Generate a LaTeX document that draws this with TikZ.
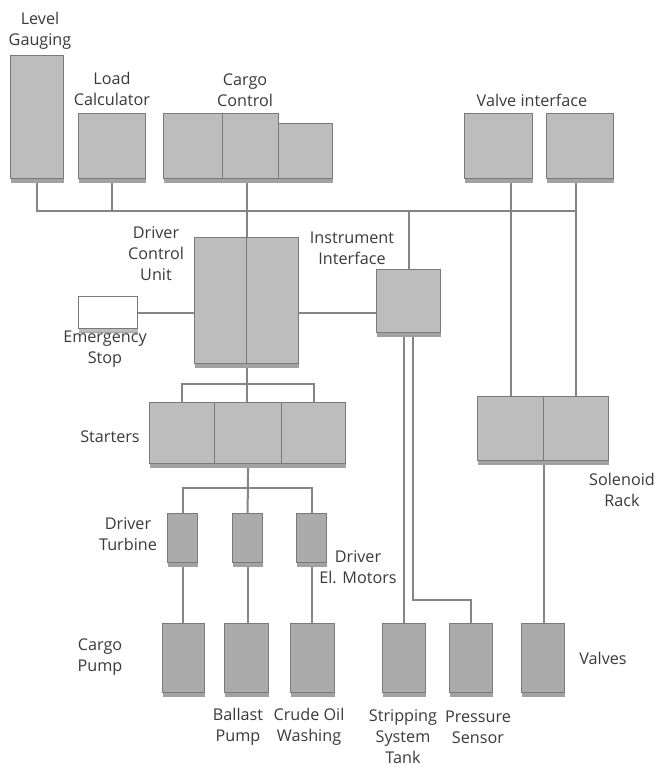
\documentclass[tikz,border=0pt]{standalone}
\usepackage{fontspec}
\setmainfont{Open Sans}
\usepackage{tikz}
\usetikzlibrary{positioning, shadows, backgrounds, calc}
\definecolor{cabfill}{HTML}{BDBDBD}
\definecolor{cabdark}{HTML}{ABABAB}
\definecolor{cabline}{HTML}{7A7A7A}
\definecolor{cabedge}{HTML}{A2A2A2}
\definecolor{wirecol}{HTML}{858585}
\definecolor{txtcol}{HTML}{3A3A3A}

\tikzset{
    cab/.style={draw=cabline, fill=cabfill, line width=1.2pt, anchor=north west, inner sep=0pt,
        general shadow={fill=cabedge, shadow yshift=-4pt}},
    low/.style={fill=cabdark},
    wire/.style={draw=wirecol, line width=2pt},
    lbl/.style={font=\fontsize{16.2}{21}\selectfont, text=txtcol, align=center, inner sep=0pt},
}

\begin{document}
\begin{tikzpicture}[x=1pt, y=-1pt]
    \useasboundingbox (0,0) rectangle (658,767);
    % Top row
    \node[cab, minimum width=53pt, minimum height=123pt] (lg) at (10,55) {};
    \node[cab, minimum width=67pt, minimum height=65pt] (lc) at (78,113) {};
    \node[cab, minimum width=59pt, minimum height=65pt] (cc1) at (163,113) {};
    \node[cab, minimum width=56pt, minimum height=65pt] (cc2) at (222,113) {};
    \node[cab, minimum width=54pt, minimum height=55pt] (cc3) at (278,123) {};
    \node[cab, minimum width=68pt, minimum height=65pt] (vi1) at (464,113) {};
    \node[cab, minimum width=67pt, minimum height=65pt] (vi2) at (546,113) {};
    % Control level
    \node[cab, minimum width=52pt, minimum height=126pt] (dcu1) at (194,237) {};
    \node[cab, minimum width=52pt, minimum height=126pt] (dcu2) at (246,237) {};
    \node[cab, minimum width=64pt, minimum height=63pt] (ii) at (376,269) {};
    \node[cab, fill=white, general shadow={fill=cabfill, shadow yshift=-3pt},
        minimum width=59pt, minimum height=32pt] (es) at (78,296) {};
    % Starters and solenoid rack
    \foreach \n/\x/\w in {st1/149/65, st2/214/67, st3/281/64} {
        \node[cab, minimum width=\w pt, minimum height=61pt] (\n) at (\x,402) {};
    }
    \node[cab, minimum width=66pt, minimum height=64pt] (sr1) at (477,396) {};
    \node[cab, minimum width=65pt, minimum height=64pt] (sr2) at (543,396) {};
    % Drivers
    \foreach \n/\x in {dt1/167, dt2/232, dt3/296} {
        \node[cab, low, minimum width=30pt, minimum height=49pt] (\n) at (\x,513) {};
    }
    % Bottom row
    \foreach \n/\x/\w in {cp/162/42, bp/224/44, cow/290/44, sst/382/43, ps/449/43, va/521/43} {
        \node[cab, low, minimum width=\w pt, minimum height=69pt] (\n) at (\x,623) {};
    }

    % Wiring
    \coordinate (bus) at (0,211);
    \coordinate (brk) at (0,384);
    \coordinate (mbus) at (0,488);
    \coordinate (psbend) at (413,600);
    \begin{scope}[on background layer]
        \draw[wire] (lg.south) -- (lg.south |- bus) -- (sr2.north |- bus);
        \draw[wire] (lc.south) -- (lc.south |- bus);
        \draw[wire] (dcu1.north east |- cc2.south) -- (dcu1.south east |- st2.north);
        \draw[wire] (ii.north) -- (ii.north |- bus);
        \draw[wire] (es.east) -- (es.east -| ii.west);
        \draw[wire] (st1.north) -- (st1.north |- brk) -- (st3.north |- brk) -- (st3.north);
        \draw[wire] (st2.south) -- (dt2.north);
        \draw[wire] (dt1.north) -- (dt1.north |- mbus) -- (dt3.north |- mbus) -- (dt3.north);
        \draw[wire] (dt1.south) -- (dt1.south |- cp.north);
        \draw[wire] (dt2.south) -- (dt2.south |- bp.north);
        \draw[wire] (dt3.south) -- (dt3.south |- cow.north);
        \draw[wire] (sst.north) -- (sst.north |- ii.south);
        \draw[wire] (psbend |- ii.south) -- (psbend) -| (ps.north);
        \draw[wire] (sr1.north) -- (sr1.north |- vi1.south);
        \draw[wire] (sr2.north) -- (sr2.north |- vi2.south);
        \draw[wire] (sr1.south east) -- (sr1.south east |- va.north);
    \end{scope}

    % Labels
    \node[lbl] (t-lg) at (40,31) {Level\\Gauging};
    \node[lbl] (t-lc) at (112,89) {Load\\Calculator};
    \node[lbl] (t-cc) at (245,90) {Cargo\\Control};
    \node[lbl] (t-vi) at (532,100) {Valve interface};
    \node[lbl] (t-dcu) at (156,254) {Driver\\Control\\Unit};
    \node[lbl] (t-ii) at (352,248) {Instrument\\Interface};
    \node[lbl] (t-es) at (105,349) {Emergency\\Stop};
    \node[lbl] (t-st) at (110,437) {Starters};
    \node[lbl] (t-sr) at (622,490) {Solenoid\\Rack};
    \node[lbl] (t-dt) at (128,534) {Driver\\Turbine};
    \node[lbl] (t-em) at (358,567) {Driver\\El. Motors};
    \node[lbl] (t-cp) at (100,657) {Cargo\\Pump};
    \node[lbl] (t-va) at (603,658) {Valves};
    \node[lbl] (t-bp) at (238,727) {Ballast\\Pump};
    \node[lbl] (t-cow) at (309,727) {Crude Oil\\Washing};
    \node[lbl] (t-sst) at (403,737) {Stripping\\System\\Tank};
    \node[lbl] (t-ps) at (478,727) {Pressure\\Sensor};
\end{tikzpicture}
\end{document}
